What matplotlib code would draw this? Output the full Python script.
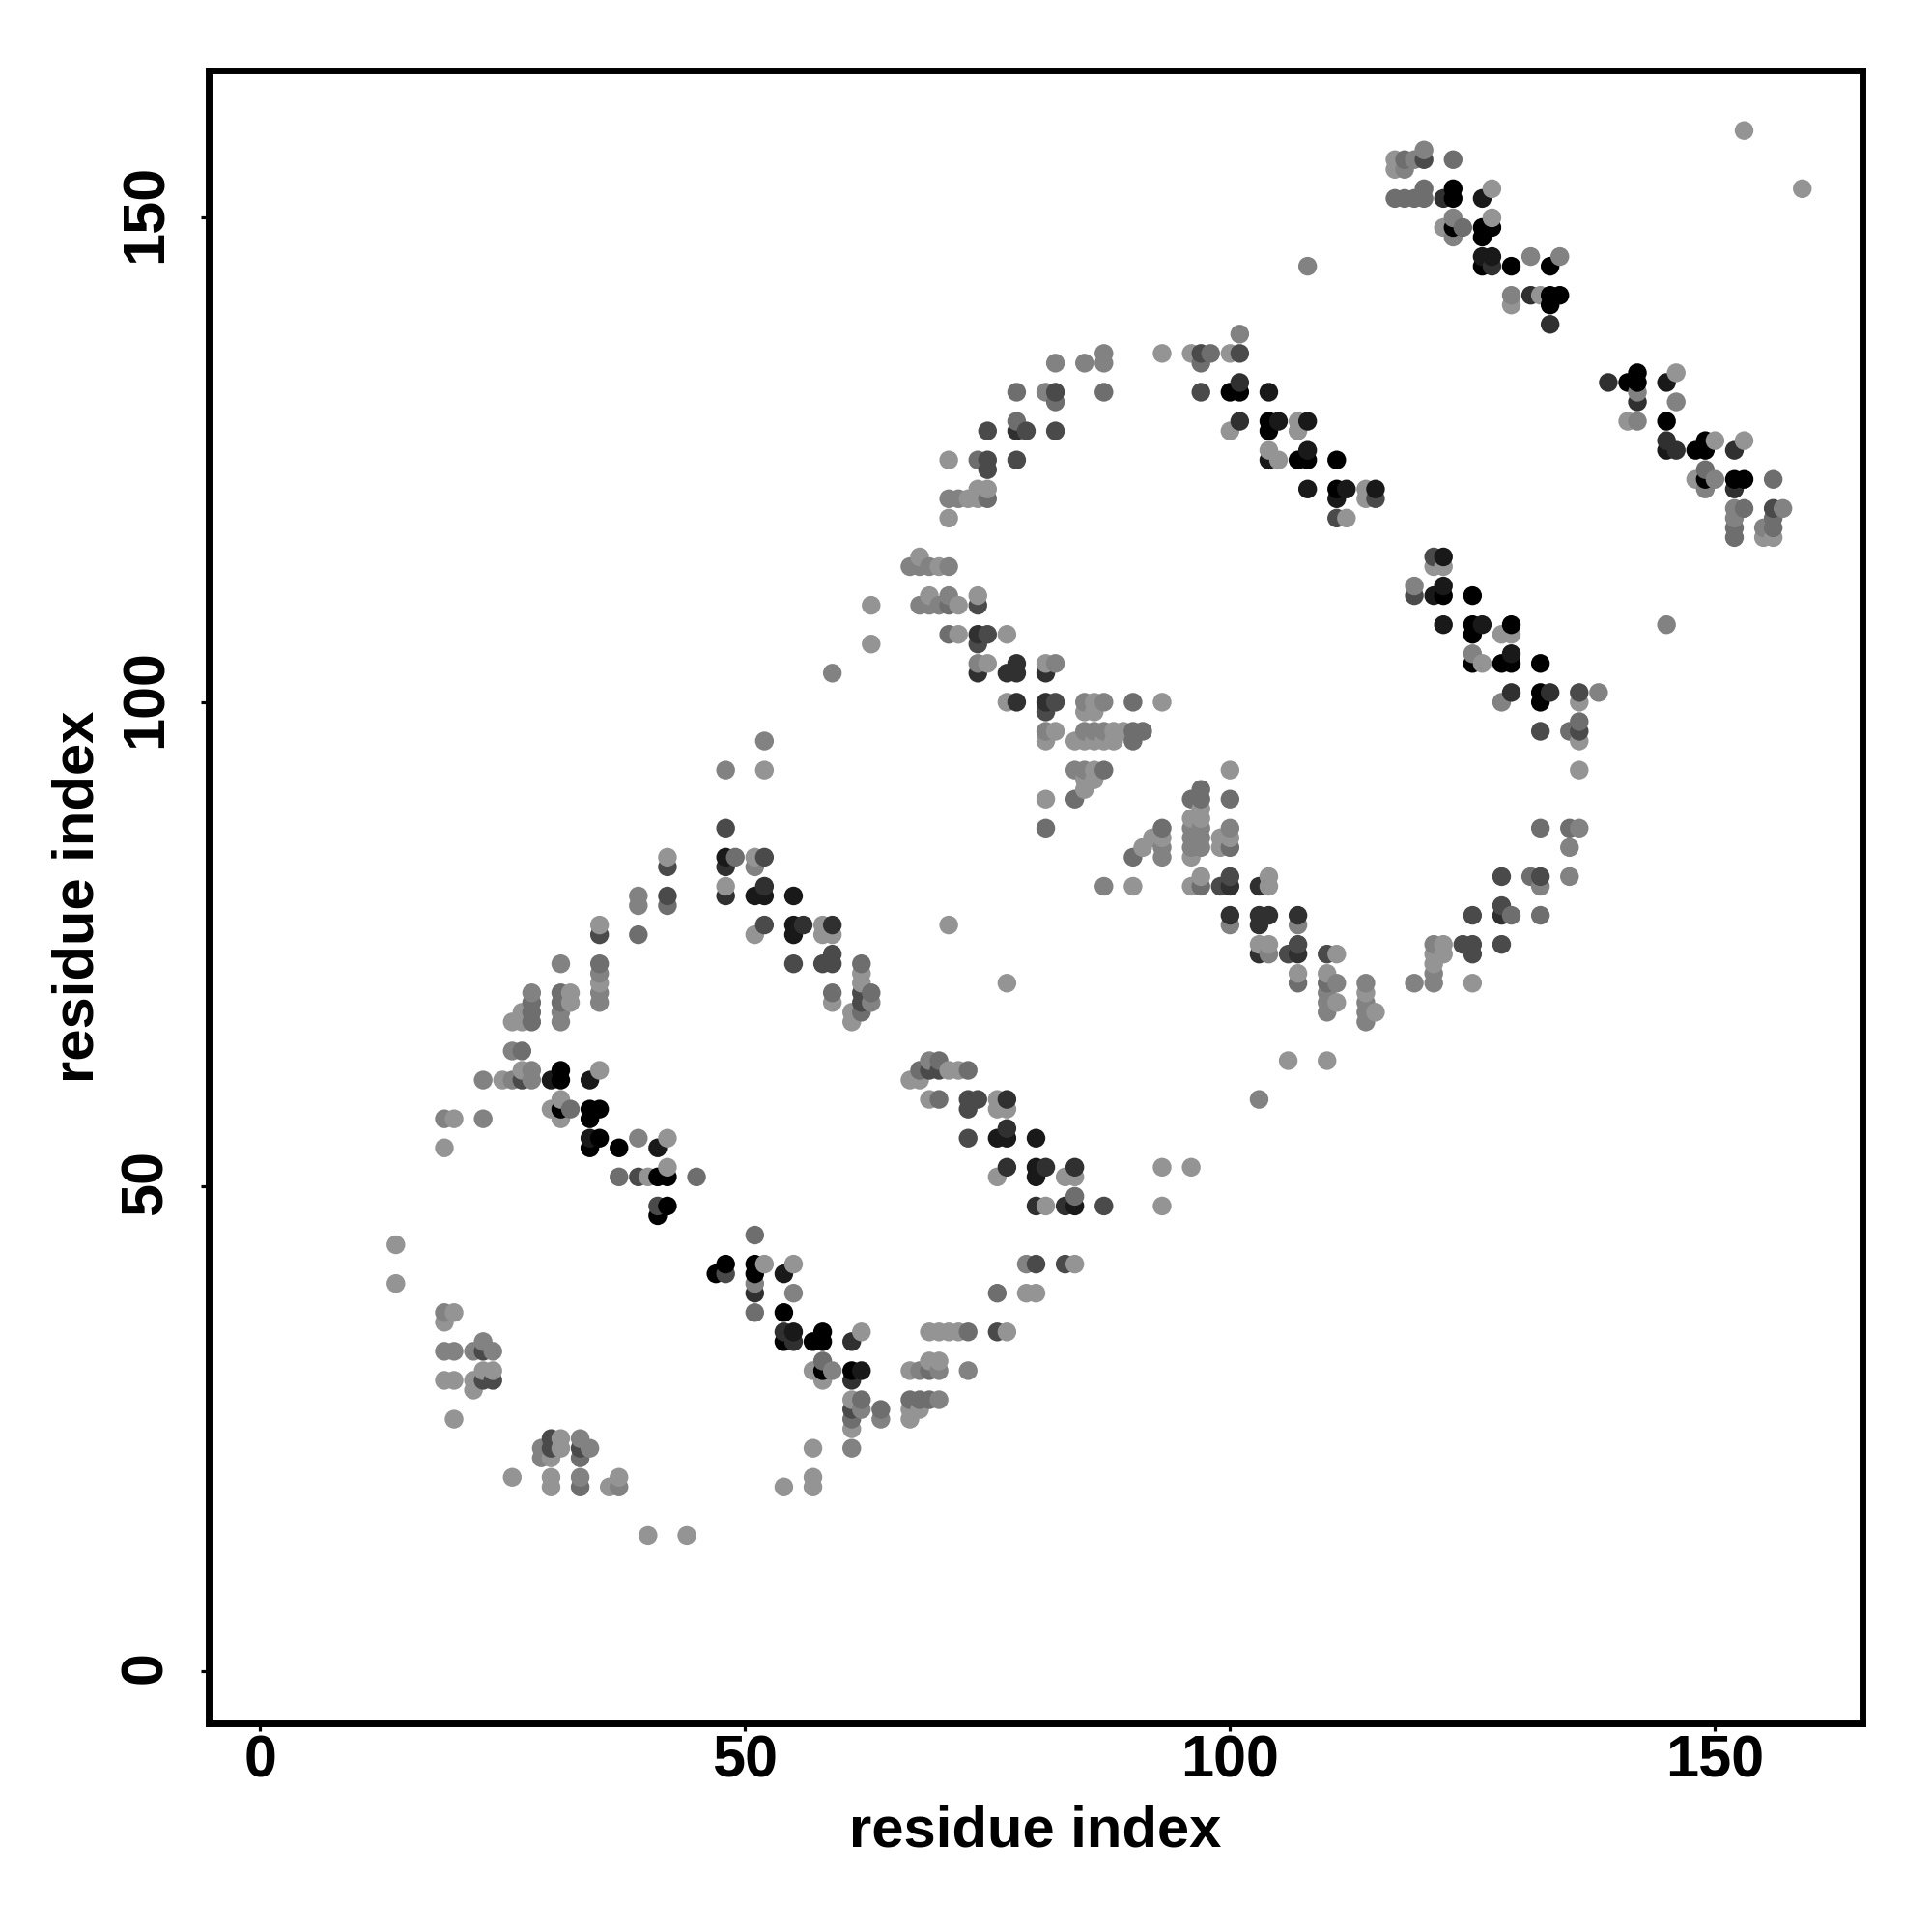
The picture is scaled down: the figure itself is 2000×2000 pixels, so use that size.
import numpy as np
import matplotlib
matplotlib.use("Agg")
import matplotlib.pyplot as plt
from matplotlib.transforms import ScaledTranslation

plt.rcParams["font.family"] = ["Liberation Sans", "DejaVu Sans"]
plt.rcParams["font.weight"] = "bold"

# contacts, one list of (i, j) per grey level
shade_light = [(14,44),(14,40),(20,57),(20,37),(19,36),(19,54),(32,70),(32,69),(27,68),(26,67),(27,67),(27,62),(35,62),
    (25,61),(31,59),(30,58),(31,57),(42,55),(42,52),(40,51),(52,42),(23,31),(24,31),(19,30),(20,30),(22,30),(22,29),
    (20,26),(31,24),(31,23),(30,22),(26,20),(30,20),(37,20),(30,19),(36,19),(40,14),(44,14),(62,35),(69,35),(70,35),
    (71,35),(72,35),(77,35),(69,32),(70,32),(57,31),(67,31),(67,27),(68,27),(67,26),(61,25),(79,39),(80,39),(84,42),
    (81,48),(57,20),(54,19),(57,19),(57,23),(55,42),(58,30),(61,28),(93,52),(96,52),(93,48),
    (52,93),(51,84),(48,81),(51,76),(58,77),(58,76),(59,76),(71,77),(62,72),(62,71),(77,71),(61,68),(61,67),(71,62),
    (72,62),(67,61),(68,61),(69,59),(76,59),(76,58),(77,58),(76,51),(83,51),(84,51),(59,69),
    (74,111),(77,107),(75,104),(77,100),(86,100),(85,99),(86,99),(82,97),(88,97),(89,97),(81,96),(84,96),(85,96),
    (86,96),(87,96),(88,96),(86,93),(85,92),(86,92),(85,91),(81,90),(100,93),(97,89),(96,88),(97,88),(92,86),(93,86),
    (99,86),(100,86),(91,85),(99,85),(96,84),(97,82),(104,82),(90,81),(96,81),(104,81),(93,100),(81,104),
    (103,75),(104,75),(107,72),(110,72),(111,74),(111,69),(114,70),(115,68),(106,63),(110,63),
    (121,114),(122,114),(128,107),(129,107),(126,104),(136,100),(136,96),(136,93),(122,75),(121,74),(122,74),(121,73),(125,71),
    (153,159),(159,153),(117,156),(117,155),(127,153),(127,150),(122,149),(129,141),(132,142),(150,127),(153,127),
    (141,129),(155,117),(156,117),(148,123),(146,134),
    (93,136),(96,136),(100,136),(100,128),(107,129),(107,128),(104,126),(105,125),(71,125),(74,122),(75,122),(73,121),
    (74,121),(71,119),(112,119),(114,122),(114,121),
    (68,115),(70,114),(69,111),(72,110),(72,107),(63,110),(63,106),(35,71),(35,77),(42,84)]
shade_mid = [(19,57),(23,57),(23,61),(19,37),(28,62),(28,61),(26,61),(26,64),(39,55),(20,33),(22,33),(24,33),(23,34),(19,33),
    (29,22),(29,23),(33,24),(34,23),(33,20),(37,19),(59,31),(68,31),(70,31),(73,31),(64,26),(61,23),(79,42),(55,39),
    (51,40),(62,27),(70,28),(28,70),
    (52,96),(48,93),(51,83),(63,69),(69,63),
    (74,104),(82,104),(85,100),(87,100),(81,97),(85,97),(86,97),(87,97),(85,93),(84,93),(100,87),(96,87),(97,87),
    (96,86),(97,86),(93,85),(96,85),(97,85),(93,84),(87,81),
    (100,77),(104,74),(107,77),(111,71),(110,70),(110,69),(110,68),(114,71),(114,69),(114,68),(114,67),(119,71),(121,71),(103,59),
    (119,112),(125,105),(128,100),(138,101),(135,85),(136,87),(132,81),(135,82),(121,75),(121,72),
    (120,157),(119,156),(118,155),(123,150),(123,148),(131,146),(134,146),(129,142),(142,132),(146,131),(142,129),
    (150,123),(149,122),(152,120),(157,120),(152,119),(155,118),
    (87,136),(101,138),(82,135),(85,135),(87,135),(81,132),(71,121),(72,121),
    (67,114),(68,114),(69,114),(71,114),(71,111),(68,110),(69,110),(70,110),
    (59,103),(145,108),(108,145),(39,80),(39,79),(31,73),(35,72),(35,70),(35,69),(31,68),(31,67)]
shade_grey = [(31,70),(28,69),(31,69),(28,68),(28,67),(27,64),(32,58),(37,51),(45,51),(51,45),(51,37),(33,22),(33,19),(58,32),
    (69,31),(62,28),(67,28),(68,28),(69,28),(64,27),(61,26),(76,39),(73,35),(84,49),(49,84),(59,70),(63,70),(62,73),
    (70,63),(68,62),(73,62),(70,59),(39,76),(42,79),(35,73),(62,68),
    (90,100),(90,97),(91,97),(90,96),(87,93),(84,90),(81,87),(97,91),(96,90),(97,90),(93,87),(100,90),(100,85),(90,84),(97,81),
    (107,71),(110,71),
    (132,87),(135,87),(135,97),(136,98),(131,82),(129,78),(132,78),
    (118,156),(123,156),(120,153),(117,152),(118,152),(119,152),(120,152),(124,149),(153,120),(156,123),(156,119),
    (152,118),(156,118),(152,117),(149,124),
    (78,132),(87,132),(82,131),(78,129),(97,135),(98,136),(74,125),(75,121),
    (71,110),(71,107)]
shade_dark = [(27,61),(39,51),(41,48),(48,41),(23,33),(23,30),(24,30),(30,24),(30,23),(33,23),(61,27),(76,35),(80,42),(83,42),
    (87,48),(48,87),(52,84),(52,77),(59,74),(55,73),(58,73),(59,73),(62,70),(62,69),(69,62),(70,62),(73,59),(74,59),
    (73,58),(73,55),(42,83),(42,80),(35,76),(111,119),
    (74,110),(74,106),(75,107),(82,100),(81,99),(100,82),(99,81),(106,74),(107,75),(110,74),
    (121,115),(119,111),(136,101),(132,97),(136,97),(128,82),(132,82),(128,79),(125,78),(124,75),(125,75),(128,75),(125,74),
    (120,156),(156,120),(75,128),(79,128),(82,128),(75,125),(75,124),(78,125),(82,132),(97,136),(101,136),(97,132),(115,121)]
shade_darker = [(51,39),(61,34),(61,30),(54,35),(55,34),(80,48),(83,48),(48,83),(48,80),(52,81),(59,77),(56,77),(77,59),(77,56),
    (77,52),(81,52),(84,52),
    (74,107),(74,103),(78,104),(77,103),(78,103),(81,103),(78,100),(81,100),(100,81),(103,81),(100,78),(103,78),
    (104,78),(107,78),(103,77),(103,74),(107,74),
    (129,101),(133,101),(128,78),
    (122,152),(131,142),(139,133),(142,131),(145,127),(146,126),(152,126),(133,139),(152,122),(127,145),
    (78,128),(101,133),(101,129)]
shade_near_black = [(30,61),(34,61),(34,55),(41,54),(54,41),(55,35),(62,31),(48,84),(51,80),(52,80),(55,80),(55,77),(55,76),
    (76,55),(77,55),(80,55),(80,52),(80,51),(84,48),
    (122,115),(122,112),(121,111),(122,108),(126,108),(129,105),
    (126,152),(126,146),(127,146),(145,133),(145,126),
    (104,132),(105,129),(108,129),(104,125),(108,126),(108,122),(112,122),(111,121),(115,122)]
shade_black = [(31,62),(31,61),(31,58),(34,58),(35,58),(34,57),(34,54),(35,55),(37,54),(41,51),(42,51),(42,48),(41,47),(48,42),
    (51,42),(47,41),(51,41),(54,37),(58,35),(54,34),(57,34),(58,34),(58,31),(61,31),
    (122,111),(125,111),(125,108),(129,108),(125,107),(125,104),(128,104),(129,104),(132,104),(132,101),(132,100),
    (123,153),(123,152),(123,149),(126,149),(127,149),(126,148),(126,145),(129,145),(133,145),(133,142),(134,142),
    (133,141),(141,133),(142,134),(142,133),(145,129),(149,127),(148,126),(149,126),(149,123),(152,123),(153,123),
    (100,132),(101,132),(104,129),(104,128),(107,125),(108,125),(111,125),(111,122)]
ticks = [0, 50, 100, 150]

groups = [(shade_light, 0.58), (shade_mid, 0.51), (shade_grey, 0.43), (shade_dark, 0.29),
          (shade_darker, 0.19), (shade_near_black, 0.1), (shade_black, 0.0)]
x, y, g = [], [], []
for pts, grey in groups:
    for p in pts:
        x.append(p[0])
        y.append(p[1])
        g.append(grey)
x = np.array(x)
y = np.array(y)
g = np.array(g)
# points sit on top of those to the left and below
order = np.lexsort((y, x))

fig = plt.figure(figsize=(20, 20), dpi=100)
ax = fig.add_axes([216 / 2000, 216 / 2000, (1928 - 216) / 2000, (1784 - 73) / 2000])
ax.scatter(x[order], y[order], s=195, c=g[order], cmap="gray", vmin=0, vmax=1, linewidths=0)
ax.set_xlim(-5.3, 165.2)
ax.set_ylim(-5.4, 165.2)
ax.set_xticks(ticks)
ax.set_yticks(ticks)
ax.set_xticklabels(ticks, fontsize=44, fontweight="bold")
ax.set_yticklabels(ticks, fontsize=44, fontweight="bold", rotation=90, va="center")
ax.tick_params(axis="x", length=5.5, width=2.3, pad=3)
ax.tick_params(axis="y", length=5.5, width=2.3, pad=20)
# y tick labels sit a little above their ticks in the reference
nudge = ScaledTranslation(0, 3 / 72, fig.dpi_scale_trans)
for lab in ax.get_yticklabels():
    lab.set_transform(lab.get_transform() + nudge)
for s in ax.spines.values():
    s.set_linewidth(5)
ax.set_xlabel("residue index", fontsize=43, fontweight="bold", labelpad=11)
ax.set_ylabel("residue index", fontsize=43, fontweight="bold", labelpad=10.5)
fig.savefig("out.png", dpi=100, facecolor="white")
plt.close(fig)
